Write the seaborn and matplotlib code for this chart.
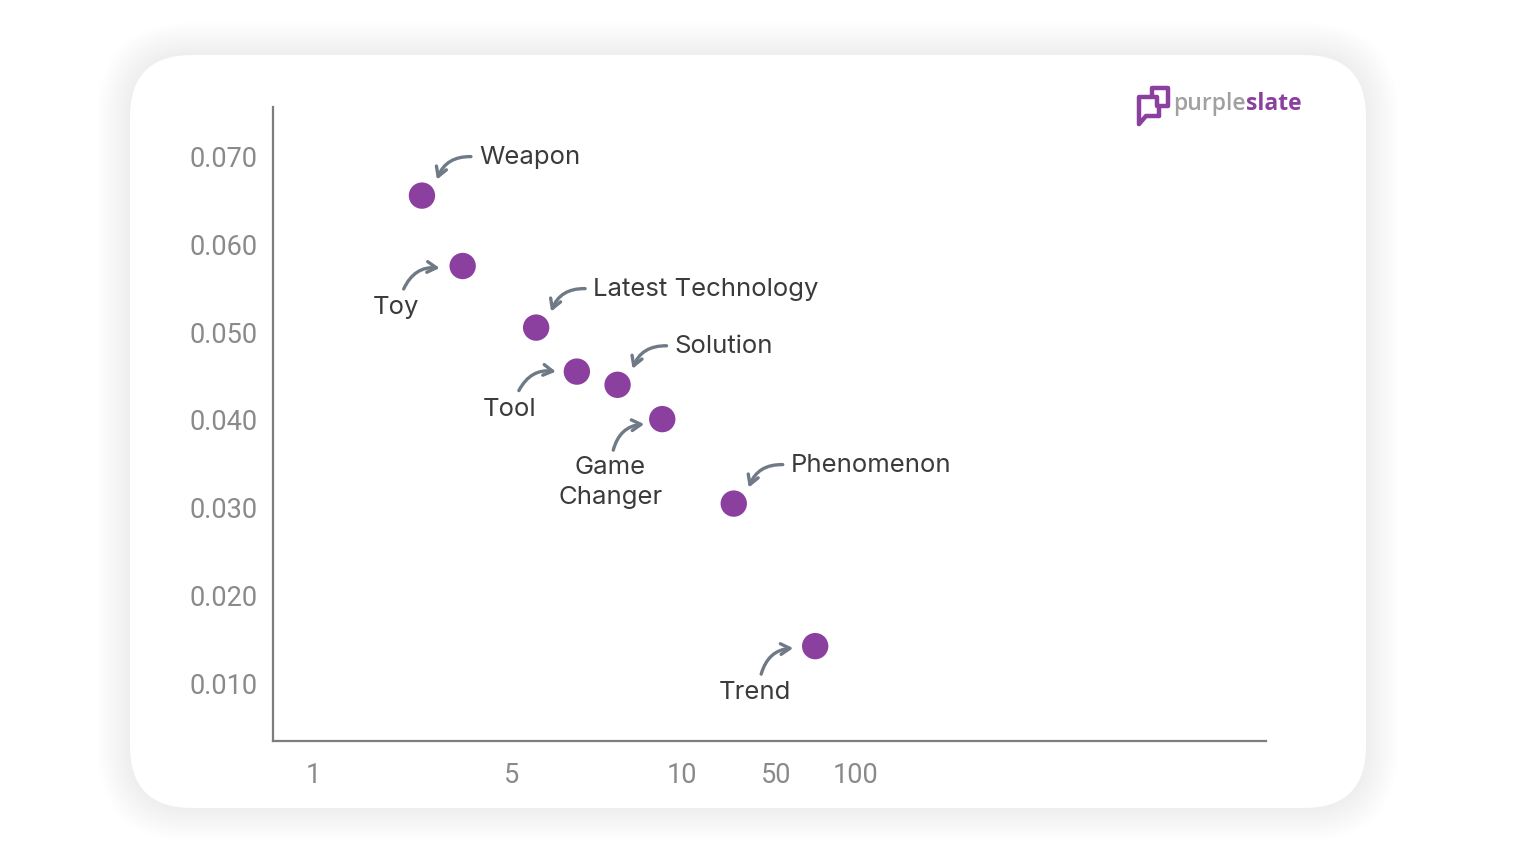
import matplotlib
matplotlib.use("Agg")
import matplotlib.pyplot as plt
import seaborn as sns
import pandas as pd
from matplotlib.patches import FancyBboxPatch
from matplotlib.transforms import ScaledTranslation

# ---------------- data ----------------
labels = ["Weapon", "Toy", "Latest Technology", "Tool", "Solution",
          "Game\nChanger", "Phenomenon", "Trend"]
x_pos = [1.50, 1.91, 2.65, 3.06, 3.47, 3.92, 4.64, 5.46]
y_val = [0.0655, 0.0575, 0.0505, 0.0455, 0.0440, 0.0401, 0.0305, 0.0143]
x_tick_pos = [0.41, 2.40, 4.12, 5.07, 5.87]
x_tick_labels = ["1", "5", "10", "50", "100"]
y_ticks = [0.010, 0.020, 0.030, 0.040, 0.050, 0.060, 0.070]

# label side: +1 label to the right/up, -1 label lower-left
side = [1, -1, 1, -1, 1, -1, 1, -1]

PURPLE = "#8b3f9f"
ARROW = "#6f7a86"
TEXT = "#3b3b3b"
TICK = "#8a8a8a"

sns.set_theme(style="white")
plt.rcParams["font.family"] = ["Inter", "DejaVu Sans"]

fig = plt.figure(figsize=(15.36, 8.64), dpi=100)
fig.patch.set_facecolor("white")

# ---------- background card ----------
bg = fig.add_axes([0, 0, 1, 1], zorder=-5)
bg.set_xlim(0, 1536)
bg.set_ylim(864, 0)
bg.axis("off")
cx0, cy0, cw, ch, rr = 130, 55, 1236, 753, 62
for p in range(1, 34, 2):
    bg.add_patch(FancyBboxPatch((cx0, cy0), cw, ch,
                                boxstyle=f"round,pad={p},rounding_size={rr + p}",
                                fc="black", ec="none", alpha=0.0038))
bg.add_patch(FancyBboxPatch((cx0, cy0), cw, ch,
                            boxstyle=f"round,pad=0,rounding_size={rr}",
                            fc="white", ec="none"))

# logo
lw_logo = 3.2
bg.plot([1152, 1152, 1168, 1168, 1159], [96, 88, 88, 106, 106], color=PURPLE, lw=lw_logo,
        solid_capstyle="round", solid_joinstyle="round")
bg.plot([1157, 1157, 1139, 1139], [106, 97, 97, 124], color=PURPLE, lw=lw_logo,
        solid_capstyle="round", solid_joinstyle="round")
bg.plot([1139, 1146, 1159], [124, 116, 116], color=PURPLE, lw=lw_logo,
        solid_capstyle="round", solid_joinstyle="round")
bg.plot([1159, 1159], [116, 106], color=PURPLE, lw=lw_logo, solid_capstyle="round")
t1 = bg.text(1173, 110, "purple", fontsize=16.5, fontweight="semibold", color="#a0a0a0",
             ha="left", va="baseline", family=["Open Sans", "DejaVu Sans"])
bg.annotate("slate", xy=(1, 0), xycoords=t1, xytext=(0, 0), textcoords="offset points",
            fontsize=16.5, fontweight="bold", color=PURPLE, ha="left", va="bottom",
            family=["Open Sans", "DejaVu Sans"])

# ---------- main axes ----------
ax = fig.add_axes([273 / 1536, 1 - 741 / 864, 993 / 1536, 634 / 864], zorder=2)
ax.patch.set_alpha(0)
df = pd.DataFrame({"x": x_pos, "y": y_val, "label": labels})
sns.scatterplot(data=df, x="x", y="y", ax=ax, s=360, color=PURPLE,
                edgecolor="none", zorder=3)

ax.set_xlim(0, 10)
ax.set_ylim(0.00352, 0.07557)
ax.set_xticks(x_tick_pos)
ax.set_xticklabels(x_tick_labels)
ax.set_yticks(y_ticks)
ax.set_yticklabels([f"{v:.3f}" for v in y_ticks])
ax.set_xlabel("")
ax.set_ylabel("")
for s in ["top", "right"]:
    ax.spines[s].set_visible(False)
for s in ["left", "bottom"]:
    ax.spines[s].set_color("#7d7d7d")
    ax.spines[s].set_linewidth(1.6)
ax.tick_params(axis="both", length=0, labelsize=19.5, colors=TICK)
ax.tick_params(axis="y", pad=11)
ax.tick_params(axis="x", pad=15)
for lab in ax.get_xticklabels() + ax.get_yticklabels():
    lab.set_family(["Roboto", "DejaVu Sans"])
    lab.set_color(TICK)

# ---------- annotations (offsets in pixels, screen y-down) ----------
right_off = dict(head=(15, -16), tail=(49, -39), text=(57, -38))
left_off = {
    "Toy": dict(head=(-23, 2), tail=(-59, 23), text=(-67, 41)),
    "Tool": dict(head=(-21, 0), tail=(-58, 19), text=(-67, 38)),
    "Game\nChanger": dict(head=(-18, 5), tail=(-49, 31), text=(-52, 63)),
    "Trend": dict(head=(-22, 2), tail=(-54, 28), text=(-60, 46)),
}


def off(dx, dy):
    return ax.transData + ScaledTranslation(dx / 100, -dy / 100, fig.dpi_scale_trans)


for lab, xv, yv, sd in zip(labels, x_pos, y_val, side):
    o = right_off if sd > 0 else left_off[lab]
    ax.annotate("", xy=(xv, yv), xycoords=off(*o["head"]),
                xytext=(xv, yv), textcoords=off(*o["tail"]),
                arrowprops=dict(arrowstyle="->,head_length=0.55,head_width=0.32",
                                color=ARROW, lw=2.4,
                                connectionstyle=f"arc3,rad={0.35 * sd}",
                                shrinkA=0, shrinkB=0),
                zorder=4)
    if sd > 0:
        ax.text(xv, yv, lab, transform=off(*o["text"]), ha="left", va="center",
                fontsize=18.5, color=TEXT, zorder=5)
    else:
        ax.text(xv, yv, lab, transform=off(*o["text"]), ha="center", va="center",
                fontsize=18.5, color=TEXT, linespacing=1.4, zorder=5)

fig.savefig("out.png", dpi=100, facecolor="white")
